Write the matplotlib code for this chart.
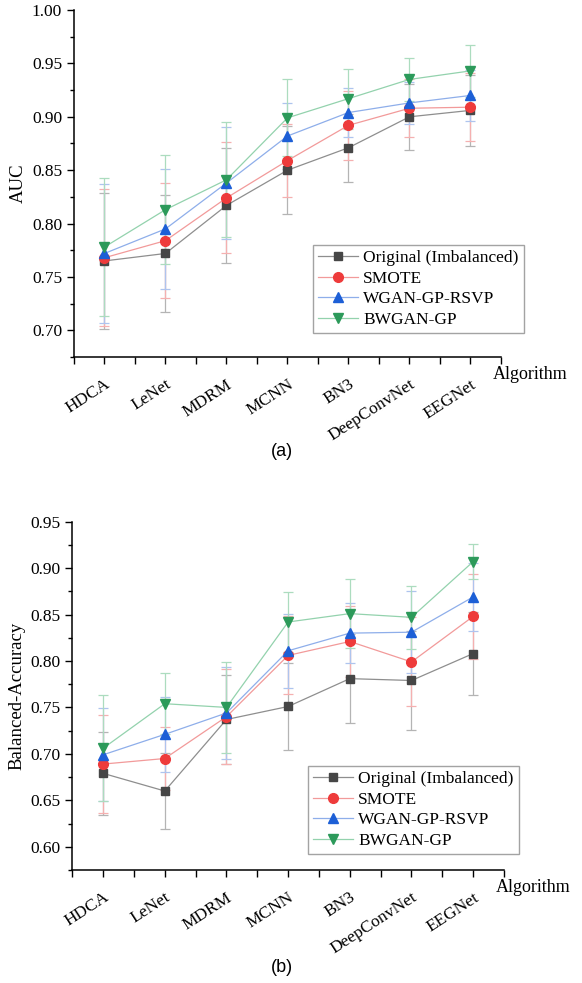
import numpy as np
import matplotlib
matplotlib.use('Agg')
from matplotlib import pyplot as plt
from matplotlib.ticker import MultipleLocator, FormatStrFormatter
from matplotlib.transforms import ScaledTranslation

plt.rcParams['font.family'] = ['Liberation Serif', 'DejaVu Serif']

algorithms = ['HDCA', 'LeNet', 'MDRM', 'MCNN', 'BN3', 'DeepConvNet', 'EEGNet']
methods = ['Original (Imbalanced)', 'SMOTE', 'WGAN-GP-RSVP', 'BWGAN-GP']

# AUC, mean and std over subjects
auc_orig = [0.765, 0.772, 0.817, 0.850, 0.871, 0.900, 0.906]
auc_orig_sd = [0.064, 0.055, 0.054, 0.041, 0.032, 0.031, 0.033]
auc_smote = [0.768, 0.784, 0.824, 0.859, 0.892, 0.908, 0.909]
auc_smote_sd = [0.064, 0.054, 0.052, 0.034, 0.032, 0.027, 0.032]
auc_wgan = [0.772, 0.795, 0.838, 0.882, 0.904, 0.913, 0.920]
auc_wgan_sd = [0.065, 0.056, 0.052, 0.031, 0.023, 0.020, 0.024]
auc_bwgan = [0.778, 0.813, 0.841, 0.899, 0.917, 0.935, 0.943]
auc_bwgan_sd = [0.065, 0.051, 0.054, 0.036, 0.028, 0.020, 0.024]

# balanced accuracy, mean and std over subjects
bacc_orig = [0.679, 0.660, 0.737, 0.751, 0.781, 0.779, 0.808]
bacc_orig_sd = [0.045, 0.041, 0.048, 0.047, 0.048, 0.053, 0.045]
bacc_smote = [0.689, 0.695, 0.740, 0.806, 0.821, 0.799, 0.848]
bacc_smote_sd = [0.053, 0.034, 0.051, 0.042, 0.038, 0.048, 0.046]
bacc_wgan = [0.699, 0.721, 0.744, 0.811, 0.830, 0.831, 0.869]
bacc_wgan_sd = [0.050, 0.040, 0.049, 0.040, 0.032, 0.044, 0.037]
bacc_bwgan = [0.706, 0.754, 0.750, 0.842, 0.851, 0.847, 0.907]
bacc_bwgan_sd = [0.057, 0.033, 0.049, 0.032, 0.037, 0.034, 0.019]

markers = ['s', 'o', '^', 'v']
msizes = [6, 7, 7.5, 7.5]
face_colors = ['#464646', '#ee3b3b', '#1d5fd6', '#2c9a5a']
line_colors = ['#8e8e8e', '#f29a9a', '#8eaeea', '#93d2ad']
err_colors = ['#b4b4b4', '#f5b0b0', '#aec4ee', '#acdcbf']


def draw_panel(ax, means, sds, ylim, ylabel, tag, tag_y):
    x = np.arange(len(algorithms))
    for i in range(len(methods)):
        ax.errorbar(x, means[i], yerr=sds[i], fmt='none', ecolor=err_colors[i],
                    elinewidth=0.9, capsize=3.5, capthick=0.9, zorder=1)
    handles = []
    for i in range(len(methods)):
        h, = ax.plot(x, means[i], color=line_colors[i], lw=0.9,
                     marker=markers[i], ms=msizes[i], mfc=face_colors[i],
                     mec=face_colors[i], label=methods[i], zorder=2 + i)
        handles.append(h)

    ax.set_xlim(-0.5, 6.5)
    ax.set_ylim(*ylim)
    ax.set_xticks(x)
    ax.set_xticklabels(algorithms, rotation=33, ha='right', va='top',
                       rotation_mode='anchor', fontsize=12.5)
    shift = ScaledTranslation(9 / 100, 0, ax.figure.dpi_scale_trans)
    for lab in ax.get_xticklabels():
        lab.set_transform(lab.get_transform() + shift)
    ax.xaxis.set_minor_locator(MultipleLocator(0.5))
    ax.yaxis.set_major_locator(MultipleLocator(0.05))
    ax.yaxis.set_minor_locator(MultipleLocator(0.025))
    ax.yaxis.set_major_formatter(FormatStrFormatter('%.2f'))
    ax.tick_params(axis='x', which='both', direction='out', length=5,
                   width=1, pad=9)
    ax.tick_params(axis='y', which='major', direction='out', length=5,
                   width=1, labelsize=12.5)
    ax.tick_params(axis='y', which='minor', direction='out', length=3, width=1)
    for s in ['top', 'right']:
        ax.spines[s].set_visible(False)
    for s in ['left', 'bottom']:
        ax.spines[s].set_linewidth(1.1)

    ax.set_ylabel(ylabel, fontsize=13.5)
    ax.yaxis.label.set_va('center')
    ax.yaxis.label.set_ha('center')
    ax.annotate('Algorithm', xy=(1, 0), xycoords='axes fraction',
                xytext=(-8, -22), textcoords='offset pixels',
                ha='left', va='baseline', fontsize=13)
    ax.figure.text(0.484, tag_y, tag, ha='center', va='center',
                   fontsize=13, family=['Liberation Sans', 'DejaVu Sans'])
    return handles


fig = plt.figure(figsize=(5.82, 9.83), dpi=100)
ax1 = fig.add_axes([0.1271, 0.6368, 0.7337, 0.3530])
ax2 = fig.add_axes([0.1242, 0.1150, 0.7418, 0.3543])

h1 = draw_panel(ax1, [auc_orig, auc_smote, auc_wgan, auc_bwgan],
                [auc_orig_sd, auc_smote_sd, auc_wgan_sd, auc_bwgan_sd],
                (0.675, 1.0), 'AUC', '(a)', 1 - 451 / 983)
ax1.yaxis.set_label_coords(-0.13, 0.5)
h2 = draw_panel(ax2, [bacc_orig, bacc_smote, bacc_wgan, bacc_bwgan],
                [bacc_orig_sd, bacc_smote_sd, bacc_wgan_sd, bacc_bwgan_sd],
                (0.575, 0.95), 'Balanced-Accuracy', '(b)', 1 - 968 / 983)
ax2.yaxis.set_label_coords(-0.128, 0.5)

for ax, hs, anchor in [(ax1, h1, (313 / 582, 1 - 245 / 983)),
                       (ax2, h2, (308 / 582, 1 - 766 / 983))]:
    leg = ax.legend(hs, methods, loc='upper left', bbox_to_anchor=anchor,
                    bbox_transform=fig.transFigure, borderaxespad=0,
                    fontsize=12.5, fancybox=False, handlelength=2.3,
                    handletextpad=0.3, labelspacing=0.25, borderpad=0.3)
    leg.get_frame().set_edgecolor('#8c8c8c')
    leg.get_frame().set_linewidth(1.0)

fig.savefig('out.png', dpi=100)
